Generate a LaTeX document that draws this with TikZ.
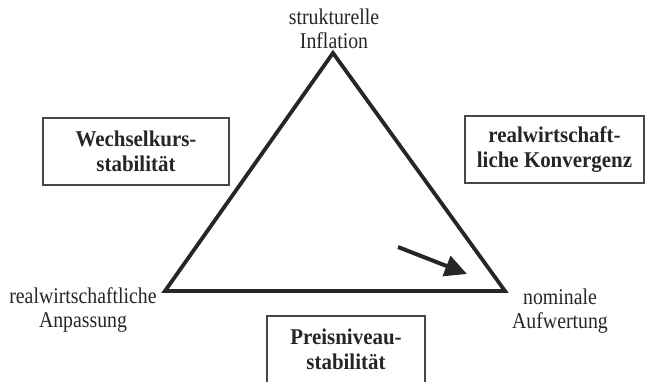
\documentclass[tikz,border=0pt]{standalone}
\usepackage{fontspec}
\setmainfont{Liberation Serif}
\newfontfamily\condfont{Liberation Serif}[FakeStretch=0.88]
\newfontfamily\condbold{Liberation Serif Bold}[FakeStretch=0.93]
\usetikzlibrary{arrows.meta}
\definecolor{ink}{HTML}{262626}
\tikzset{
  lbl/.style={align=center,text=ink,font=\condfont\fontsize{22.5}{23.5}\selectfont,inner sep=0pt},
  boxlbl/.style={align=center,text=ink,font=\condbold\fontsize{22.5}{25.5}\selectfont,draw=ink!85,line width=1.4pt,inner sep=0pt},
  tri/.style={draw=ink,line width=3.8pt,line join=miter},
  arr/.style={draw=ink,line width=4pt,-{Triangle[length=22pt,width=21pt]}}
}
\begin{document}
\begin{tikzpicture}[x=1pt,y=-1pt]
\useasboundingbox (0,0) rectangle (646,382);
\clip (0,0) rectangle (646,382);
\fill[white] (0,0) rectangle (646,382);
% triangle corners
\coordinate (A) at (333,53);
\coordinate (BL) at (165,291);
\coordinate (BR) at (505,291);
\draw[tri] (A) -- (BL) -- (BR) -- cycle;
% arrow
\coordinate (as) at (398,247);
\coordinate (ae) at (467,274);
\draw[arr] (as) -- (ae);
% corner labels
\node[lbl] (top) at (334,29) {strukturelle\\Inflation};
\node[lbl] (left) at (83,310) {realwirtschaftliche\\Anpassung};
\node[lbl] (right) at (560,311) {nominale\\Aufwertung};
% boxes
\node[boxlbl,minimum width=186pt,minimum height=67pt] (wk) at (136,151.5) {Wechselkurs-\\stabilität};
\node[boxlbl,minimum width=179pt,minimum height=67pt] (rk) at (554.5,149.5) {realwirtschaft-\\liche Konvergenz};
\node[boxlbl,minimum width=158pt,minimum height=67pt] (pn) at (346,349.5) {Preisniveau-\\stabilität};
\end{tikzpicture}
\end{document}
